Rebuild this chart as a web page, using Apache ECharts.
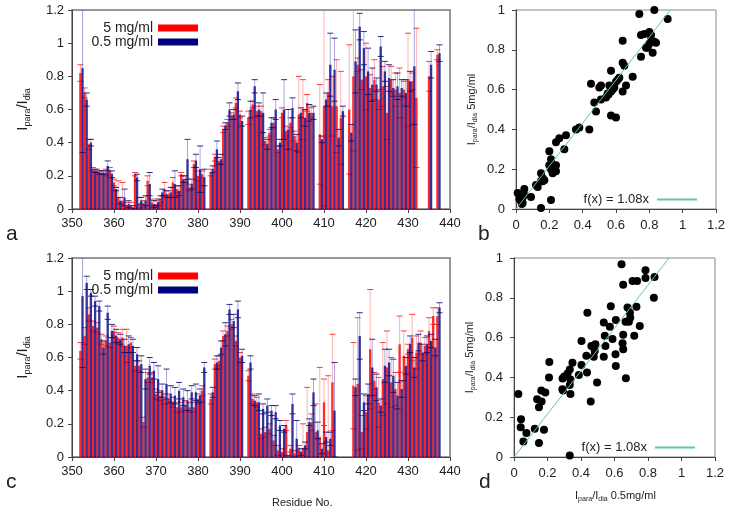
<!DOCTYPE html>
<html><head><meta charset="utf-8">
<script src="https://cdn.jsdelivr.net/npm/echarts@6/dist/echarts.min.js"></script>
<style>html,body{margin:0;padding:0;background:#fff}#c{width:731px;height:515px}</style>
</head><body><div id="c"></div>
<script>
// ---------- Panel a (top bars) ----------
const residuesA = [352,353,354,355,356,357,358,359,360,361,362,363,364,365,366,367,368,369,370,371,372,373,374,375,376,377,378,379,380,381,
  383,384,385,386,387,388,389,390,392,393,394,395,396,397,398,399,400,401,402,403,404,405,406,407,
  409,410,411,412,413,414,416,417,418,419,420,421,422,423,424,425,426,427,428,429,430,431,432,435,437];
const redA = [.82,.70,.39,.24,.23,.22,.22,.23,.16,.07,.05,.02,.02,.21,.03,.03,.17,.04,.03,.06,.12,.09,.16,.12,.21,.18,.13,.27,.20,.21,
  .22,.31,.29,.48,.52,.56,.64,.57,.55,.63,.59,.59,.41,.46,.52,.36,.58,.47,.52,.44,.57,.60,.64,.58,
  .45,.62,.70,.62,.62,.55,.60,.80,.87,.78,.80,.73,.78,.66,.74,.58,.78,.72,.70,.72,.78,.77,.67,.80,.93];
const redAErr = [.05,.03,.03,.01,.01,.01,.02,.02,.02,.10,.11,.02,.02,.01,.04,.02,.03,.02,.02,.02,.04,.02,.03,.02,.01,.02,.02,.02,.03,.02,
  .02,.02,.02,.02,.02,.02,.03,.02,.04,.02,.03,.03,.02,.02,.03,.02,.03,.03,.03,.03,.23,.18,.05,.03,
  .30,.60,.08,.18,.28,.28,.39,.45,.04,.06,.20,.08,.12,.06,.12,.16,.08,.10,.15,.05,.28,.05,.42,.09,.03];
const blueA = [.85,.66,.40,.23,.22,.22,.26,.21,.12,.05,.07,.03,.01,.19,.05,.05,.15,.03,.04,.10,.09,.10,.15,.11,.18,.30,.15,.29,.24,.19,
  .24,.36,.30,.50,.60,.57,.71,.53,.60,.74,.60,.58,.39,.52,.60,.40,.60,.48,.61,.40,.58,.55,.58,.58,
  .42,.66,.87,.84,.43,.59,.46,.89,1.10,.97,.83,.75,.75,.98,.83,.79,.73,.74,.73,.70,.77,.86,null,.87,.94];
const blueAErr = [.51,.04,.02,.01,.01,.01,.03,.02,.01,.02,.05,.02,.01,.02,.02,.03,.07,.02,.02,.02,.02,.03,.08,.03,.02,.12,.03,.04,.14,.05,
  .02,.05,.03,.02,.04,.03,.05,.03,.05,.04,.04,.12,.03,.03,.06,.02,.18,.12,.06,.05,.03,.05,.05,.04,
  .02,.04,.19,.19,.05,.03,.05,.19,.08,.10,.14,.10,.04,.06,.06,.08,.05,.08,.05,.08,.06,.35,null,.08,.05];

// ---------- Panel c (bottom bars) ----------
const residuesC = [352,353,354,355,356,357,358,359,360,361,362,363,364,365,366,367,368,369,370,371,372,373,374,375,376,377,378,379,380,381,
  383,384,385,386,387,388,389,390,392,393,394,395,396,397,398,399,400,401,402,403,404,405,406,407,408,409,410,411,412,
  417,418,419,420,421,422,423,424,425,426,427,428,429,430,431,432,433,434,435,436,437];
const redC = [.64,.73,.86,.79,.78,.71,.70,.69,.76,.72,.72,.67,.69,.55,.55,.21,.48,.48,.38,.37,.35,.35,.33,.30,.30,.31,.30,.30,.35,.40,
  .35,.56,.58,.73,.76,.80,.70,.60,.49,.35,.33,.14,.15,.17,.10,.04,.03,.19,.05,.02,.05,.05,.15,.21,.15,.12,.33,.04,.45,
  .43,.44,.15,.27,.65,.46,.33,.47,.54,.45,.41,.68,.61,.65,.72,.63,.69,.67,.76,.85,.85];
const redCErr = [.05,.05,.04,.03,.03,.03,.03,.03,.03,.03,.05,.10,.03,.03,.03,.03,.03,.03,.03,.03,.03,.03,.03,.03,.03,.03,.03,.03,.03,.03,
  .03,.03,.03,.03,.03,.03,.03,.03,.03,.03,.03,.03,.03,.03,.03,.03,.02,.03,.02,.02,.02,.15,.27,.05,.17,.42,.14,.45,.29,
  .26,.40,.10,.10,.36,.05,.15,.22,.22,.15,.10,.17,.15,.03,.14,.10,.07,.05,.08,.05,.05];
const blueC = [.97,1.05,.99,.94,.91,.66,.87,.76,.73,.71,.67,.68,.67,.62,.56,.47,.55,.52,.47,.40,.44,.38,.37,.40,.36,.34,.39,.39,.37,.54,
  .39,.57,.66,.74,.89,.82,.89,.61,.57,.34,.33,.29,.31,.28,.27,.19,.17,.00,.32,.11,.03,.07,.21,.39,.16,.05,.12,.11,.28,
  .42,.73,.33,.38,.54,.42,.31,.55,.57,.49,.37,.41,.55,.68,.54,.69,.63,.68,.70,.66,.90];
const blueCErr = [.43,.04,.02,.03,.03,.04,.04,.04,.04,.03,.04,.05,.04,.04,.05,.06,.05,.05,.08,.04,.09,.05,.05,.05,.05,.06,.04,.05,.04,.03,
  .03,.04,.04,.07,.03,.04,.05,.04,.04,.03,.05,.03,.04,.03,.04,.03,.02,.01,.06,.11,.02,.02,.02,.08,.05,.03,.03,.04,.29,
  .05,.14,.05,.06,.17,.08,.04,.10,.08,.10,.08,.05,.05,.05,.06,.05,.05,.05,.04,.05,.03];

// ---------- Panel b / d (scatter) ----------
const scatterB = [[0.01,0.08],[0.02,0.05],[0.03,0.04],[0.04,0.03],[0.05,0.07],[0.05,0.10],[0.09,0.06],[0.04,0.06],[0.02,0.07],[0.035,0.025],
  [0.12,0.12],[0.13,0.11],[0.15,0.18],[0.16,0.155],[0.17,0.145],[0.15,0.14],[0.16,0.14],[0.15,0.005],[0.21,0.045],
  [0.20,0.22],[0.20,0.29],[0.21,0.25],[0.22,0.18],[0.23,0.22],[0.24,0.19],[0.24,0.22],[0.21,0.20],
  [0.24,0.335],[0.26,0.355],[0.29,0.30],[0.30,0.37],[0.36,0.40],[0.38,0.41],[0.44,0.40],
  [0.45,0.63],[0.47,0.535],[0.48,0.49],[0.50,0.61],[0.51,0.62],[0.51,0.55],[0.54,0.56],[0.55,0.58],[0.56,0.62],[0.57,0.59],[0.58,0.60],
  [0.57,0.695],[0.57,0.47],[0.60,0.46],[0.59,0.61],[0.60,0.64],[0.61,0.65],[0.62,0.66],[0.555,0.575],
  [0.64,0.845],[0.64,0.735],[0.65,0.72],[0.64,0.59],[0.66,0.62],[0.70,0.665],
  [0.74,0.98],[0.75,0.765],[0.75,0.875],[0.77,0.88],[0.78,0.81],[0.79,0.81],[0.80,0.89],[0.80,0.83],[0.81,0.85],[0.82,0.785],
  [0.81,0.875],[0.83,0.84],[0.83,1.0],[0.84,0.835],[0.91,0.955]];
const scatterD = [[0.642,0.968],[0.785,0.938],[0.785,0.90],[0.708,0.885],[0.735,0.885],[0.652,0.866],[0.839,0.905],[0.835,0.80],
  [0.578,0.758],[0.678,0.751],[0.731,0.755],[0.692,0.725],[0.694,0.70],[0.438,0.725],[0.536,0.676],[0.608,0.688],[0.666,0.68],[0.686,0.68],
  [0.572,0.654],[0.751,0.658],[0.652,0.614],[0.542,0.609],[0.588,0.593],[0.718,0.609],[0.403,0.583],[0.648,0.571],[0.652,0.541],
  [0.462,0.558],[0.472,0.558],[0.486,0.566],[0.546,0.558],[0.482,0.533],[0.476,0.504],[0.432,0.509],[0.536,0.504],[0.606,0.516],
  [0.608,0.457],[0.668,0.396],[0.211,0.477],[0.403,0.462],[0.349,0.474],[0.333,0.44],[0.32,0.42],[0.30,0.405],[0.29,0.395],
  [0.387,0.412],[0.436,0.424],[0.209,0.40],[0.496,0.374],[0.337,0.39],[0.333,0.362],[0.337,0.317],[0.289,0.34],[0.293,0.334],
  [0.458,0.279],[0.163,0.334],[0.187,0.324],[0.138,0.29],[0.165,0.279],[0.149,0.25],[0.026,0.316],[0.042,0.19],[0.04,0.15],
  [0.056,0.078],[0.074,0.12],[0.124,0.142],[0.179,0.137],[0.149,0.07],[0.333,0.008]];
const fitLine = [[0,0],[0.926,1.0]];
const fitLabel = 'f(x) = 1.08x';

const residueTicks = [350,440,10];
const FONT = 'Liberation Sans, Arial, sans-serif';

function zip(res, v, e){ const out=[]; for(let i=0;i<res.length;i++){ if(v[i]!=null) out.push([res[i],v[i],e[i]]);} return out; }

function barRender(shift, fill, errStroke, capStroke){
  return function(params, api){
    const r = api.value(0), v = api.value(1), e = api.value(2);
    const w = api.size([1,0])[0]*0.55;
    const b = api.coord([r+shift, 0]);
    const t = api.coord([r+shift, v]);
    const hi = api.coord([r+shift, v+e]);
    const lo = api.coord([r+shift, Math.max(v-e,0)]);
    const cx = b[0];
    return {type:'group', children:[
      {type:'rect', shape:{x:cx-w/2, y:t[1], width:w, height:b[1]-t[1]}, style:{fill:fill}},
      {type:'line', shape:{x1:cx,y1:hi[1],x2:cx,y2:lo[1]}, style:{stroke:errStroke,lineWidth:1}},
      {type:'line', shape:{x1:cx-3,y1:hi[1],x2:cx+3,y2:hi[1]}, style:{stroke:capStroke,lineWidth:1}},
      {type:'line', shape:{x1:cx-3,y1:lo[1],x2:cx+3,y2:lo[1]}, style:{stroke:capStroke,lineWidth:1}}
    ]};
  };
}

const RED='#ff0000', BLUE='#000080';
const ipRich = (big, small) => ({ n:{fontSize:big, fontFamily:FONT, color:'#222', lineHeight:big+4, verticalAlign:'middle'},
                                  s:{fontSize:small, fontFamily:FONT, color:'#222', lineHeight:small+2, verticalAlign:'bottom'} });

function barX(gi){ return {type:'value', gridIndex:gi, min:residueTicks[0], max:residueTicks[1], interval:residueTicks[2],
  axisLine:{lineStyle:{color:'#444'}}, axisTick:{length:4,lineStyle:{color:'#444'}}, splitLine:{show:false},
  axisLabel:{fontSize:13, fontFamily:FONT, color:'#222', margin:8}}; }
function barY(gi){ return {type:'value', gridIndex:gi, min:0, max:1.2, interval:0.2,
  axisLine:{show:true,lineStyle:{color:'#444'}}, axisTick:{show:true,length:4,lineStyle:{color:'#444'}}, splitLine:{show:false},
  axisLabel:{fontSize:13, fontFamily:FONT, color:'#222', margin:8},
  name:'{n|I}{s|para}{n|/I}{s|dia}', nameLocation:'middle', nameGap:40, nameRotate:90,
  nameTextStyle:{rich:ipRich(15,9)}}; }
function scX(gi, name){ const o = {type:'value', gridIndex:gi, min:0, max:1.2, interval:0.2,
  axisLine:{lineStyle:{color:'#444'}}, axisTick:{length:4,lineStyle:{color:'#444'}}, splitLine:{show:false},
  axisLabel:{fontSize:13, fontFamily:FONT, color:'#222', margin:10}};
  if(name){ o.name=name; o.nameLocation='middle'; o.nameGap=31; o.nameMoveOverlap=false; o.nameTextStyle={rich:ipRich(11,7)}; }
  return o; }
function scY(gi){ return {type:'value', gridIndex:gi, min:0, max:1, interval:0.2,
  axisLine:{show:true,lineStyle:{color:'#444'}}, axisTick:{show:true,length:4,lineStyle:{color:'#444'}}, splitLine:{show:false},
  axisLabel:{fontSize:13, fontFamily:FONT, color:'#222', margin:11},
  name:'{n|I}{s|para}{n|/I}{s|dia}{n| 5mg/ml}', nameLocation:'middle', nameGap:37, nameRotate:90, nameMoveOverlap:false,
  nameTextStyle:{rich:ipRich(11,7)}}; }

function barSeries(gi, name, data, shift, fill, errStroke, capStroke, color){
  return {type:'custom', name:name, xAxisIndex:gi, yAxisIndex:gi, clip:true, data:data,
    itemStyle:{color:color}, renderItem:barRender(shift, fill, errStroke, capStroke)};
}

const legendBase = {orient:'horizontal', align:'right', icon:'rect', itemWidth:40, itemHeight:7, selectedMode:false,
  textStyle:{fontSize:14, fontFamily:FONT, color:'#222'}};

const chart = echarts.init(document.getElementById('c'), null, {renderer:'canvas'});
chart.setOption({
  animation:false,
  backgroundColor:'#fff',
  grid:[
    {left:72, top:10, width:378, height:199, show:true, borderColor:'#777', borderWidth:1.5, backgroundColor:'transparent'},
    {left:516, top:10, width:200, height:199, show:true, borderColor:'#888', borderWidth:1, backgroundColor:'transparent'},
    {left:72, top:258, width:378, height:199, show:true, borderColor:'#777', borderWidth:1.5, backgroundColor:'transparent'},
    {left:514, top:258, width:201, height:199, show:true, borderColor:'#888', borderWidth:1, backgroundColor:'transparent'}
  ],
  xAxis:[barX(0), scX(1), barX(2), scX(3,'{s| }{n|I}{s|para}{n|/I}{s|dia}{n| 0.5mg/ml}')],
  yAxis:[barY(0), scY(1), barY(2), scY(3)],
  legend:[
    Object.assign({}, legendBase, {data:['5 mg/ml'], right:528, top:16}),
    Object.assign({}, legendBase, {data:['0.5 mg/ml'], right:528, top:30}),
    Object.assign({}, legendBase, {data:['5 mg/ml'], right:528, top:264}),
    Object.assign({}, legendBase, {data:['0.5 mg/ml'], right:528, top:278}),
    {data:[fitLabel], right:29, top:188, align:'right', itemWidth:40, itemHeight:2, itemGap:0, selectedMode:false, icon:'rect',
      textStyle:{fontSize:13, fontFamily:FONT, color:'#222', padding:[0,3,0,0]}},
    {data:[fitLabel], right:31, top:436, align:'right', itemWidth:40, itemHeight:2, itemGap:0, selectedMode:false, icon:'rect',
      textStyle:{fontSize:13, fontFamily:FONT, color:'#222', padding:[0,3,0,0]}}
  ],
  series:[
    barSeries(0,'5 mg/ml', zip(residuesA, redA, redAErr), 0, 'rgba(255,0,0,0.85)', 'rgba(255,60,60,0.4)', 'rgba(255,0,0,0.75)', RED),
    barSeries(0,'0.5 mg/ml', zip(residuesA, blueA, blueAErr), 0.5, 'rgba(0,0,128,0.8)', 'rgba(40,40,170,0.4)', 'rgba(10,10,110,0.85)', BLUE),
    barSeries(2,'5 mg/ml', zip(residuesC, redC, redCErr), 0, 'rgba(255,0,0,0.85)', 'rgba(255,60,60,0.4)', 'rgba(255,0,0,0.75)', RED),
    barSeries(2,'0.5 mg/ml', zip(residuesC, blueC, blueCErr), 0.5, 'rgba(0,0,128,0.8)', 'rgba(40,40,170,0.4)', 'rgba(10,10,110,0.85)', BLUE),
    {type:'scatter', name:'b points', xAxisIndex:1, yAxisIndex:1, data:scatterB, symbolSize:8, itemStyle:{color:'#000', opacity:1}},
    {type:'line', name:fitLabel, xAxisIndex:1, yAxisIndex:1, data:fitLine, symbol:'none', clip:true,
      lineStyle:{color:'#66c2a5', width:1}, itemStyle:{color:'#66c2a5'}},
    {type:'scatter', name:'d points', xAxisIndex:3, yAxisIndex:3, data:scatterD, symbolSize:8, itemStyle:{color:'#000', opacity:1}},
    {type:'line', name:fitLabel, xAxisIndex:3, yAxisIndex:3, data:fitLine, symbol:'none', clip:true,
      lineStyle:{color:'#66c2a5', width:1}, itemStyle:{color:'#66c2a5'}}
  ],
  graphic:[
    {type:'text', left:6, top:224, style:{text:'a', fontSize:21, fontFamily:FONT, fill:'#222'}},
    {type:'text', left:478, top:224, style:{text:'b', fontSize:21, fontFamily:FONT, fill:'#222'}},
    {type:'text', left:6, top:472, style:{text:'c', fontSize:21, fontFamily:FONT, fill:'#222'}},
    {type:'text', left:479, top:472, style:{text:'d', fontSize:21, fontFamily:FONT, fill:'#222'}},
    {type:'text', left:272, top:497, style:{text:'Residue No.', fontSize:11, fontFamily:FONT, fill:'#222'}}
  ]
});
</script></body></html>
